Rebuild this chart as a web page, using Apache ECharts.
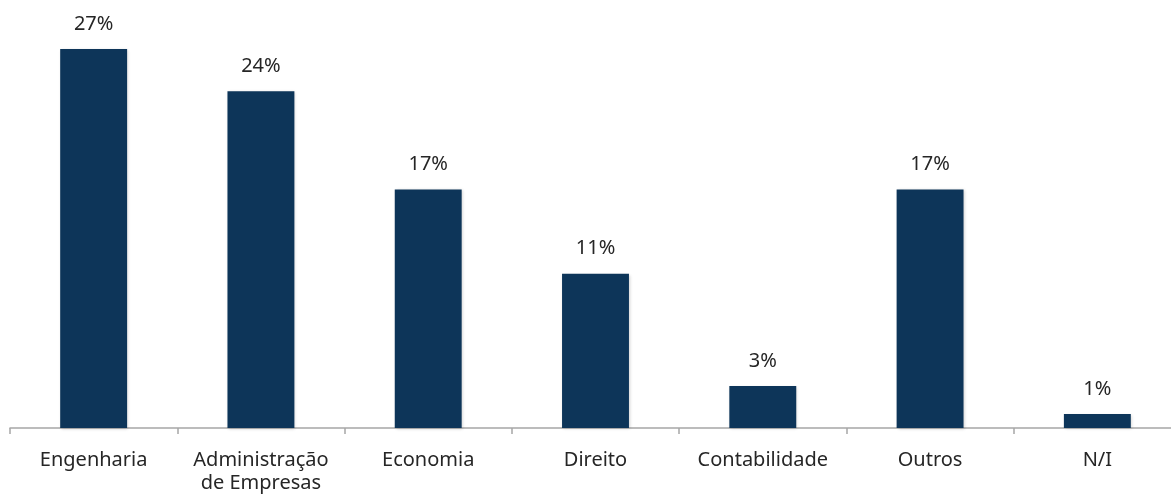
<!DOCTYPE html>
<html>
<head>
<meta charset="utf-8">
<script src="https://cdn.jsdelivr.net/npm/echarts@6/dist/echarts.min.js"></script>
<style>
  html, body { margin: 0; padding: 0; background: #ffffff; }
  #chart { width: 1171px; height: 498px; }
</style>
</head>
<body>
<div id="chart"></div>
<script>
// Formação acadêmica (%)
const categories = ['Engenharia', 'Administração\nde Empresas', 'Economia', 'Direito', 'Contabilidade', 'Outros', 'N/I'];
const shares = [27, 24, 17, 11, 3, 17, 1];

const chart = echarts.init(document.getElementById('chart'), null, { renderer: 'canvas' });
const font = '"Noto Sans", "Open Sans", sans-serif';

chart.setOption({
  animation: false,
  backgroundColor: '#ffffff',
  grid: { left: 10, width: 1171, top: 7, bottom: 70, containLabel: false, outerBoundsMode: 'none' },
  xAxis: {
    type: 'category',
    data: categories,
    boundaryGap: true,
    axisLine: { show: true, lineStyle: { color: '#a6a6a6', width: 1.5 } },
    axisTick: { show: true, length: 6, inside: false, lineStyle: { color: '#a6a6a6', width: 1.5 } },
    axisLabel: {
      interval: 0,
      margin: 21,
      color: '#262626',
      fontFamily: font,
      fontSize: 20,
      lineHeight: 23
    }
  },
  yAxis: {
    type: 'value',
    min: 0,
    max: 30,
    show: false,
    splitLine: { show: false }
  },
  series: [{
    type: 'bar',
    data: shares,
    barWidth: '40%',
    itemStyle: {
      color: '#0d3559',
      shadowColor: 'rgba(0,0,0,0.18)',
      shadowBlur: 3,
      shadowOffsetX: 1,
      shadowOffsetY: 1
    },
    label: {
      show: true,
      position: 'top',
      distance: 15,
      color: '#262626',
      fontFamily: font,
      fontSize: 20,
      formatter: p => p.value + '%'
    }
  }]
});
</script>
</body>
</html>
